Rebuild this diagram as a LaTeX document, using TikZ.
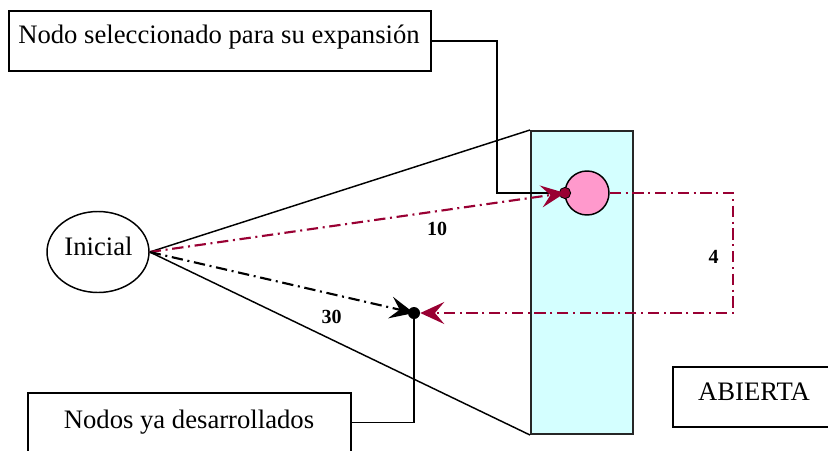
\documentclass[tikz,border=0pt]{standalone}
\usepackage{fontspec}
\setmainfont{Liberation Serif}
\usetikzlibrary{arrows.meta,shapes.geometric}
\definecolor{dred}{RGB}{153,0,51}
\definecolor{lcyan}{RGB}{212,255,255}
\definecolor{pinkf}{RGB}{255,153,204}
\begin{document}
\begin{tikzpicture}[x=0.75pt,y=-0.75pt,
  lbl/.style={font=\fontsize{20}{24}\selectfont, inner sep=0pt},
  num/.style={font=\fontsize{15}{18}\selectfont\bfseries, inner sep=0pt},
  boxn/.style={draw, line width=1.1pt, inner sep=0pt},
  thinl/.style={line width=1.1pt},
  dd/.style={line width=1.6pt, dash pattern=on 8.5pt off 3.5pt on 1.5pt off 3.5pt},
  tipr/.style={-{Stealth[length=18pt,width=16.5pt,inset=7pt]}},
]
\useasboundingbox (0,0) rectangle (828,450);
\begin{scope}
\clip (0,0) rectangle (828,450);
% shapes
\node[draw=black!85, line width=1.5pt, fill=lcyan, minimum width=76.5pt, minimum height=227.25pt, inner sep=0pt] (rect) at (582,282.5) {};
\node[ellipse, draw, line width=1.1pt, minimum width=76.5pt, minimum height=60.75pt, inner sep=0pt] (ini) at (98,252) {};
\node[lbl, anchor=base] at (98.5,255) {Inicial};
\node[circle, draw, line width=1.1pt, fill=pinkf, minimum size=33pt, inner sep=0pt] (sel) at (587,193) {};
\node[circle, fill=dred, draw=black, line width=0.6pt, minimum size=8.5pt, inner sep=0pt] (dsel) at (565,193) {};
\node[circle, fill=black, minimum size=9pt, inner sep=0pt] (ddes) at (414,313) {};
\coordinate (c1) at (733,193);
\coordinate (c2) at (733,313);
\coordinate (k1) at (497,193);
% boxes
\node[boxn, minimum width=316.5pt, minimum height=45pt] (top) at (220,41) {};
\node[lbl, anchor=base] at (219,43.5) {Nodo seleccionado para su expansión};
\node[boxn, minimum width=242.25pt, minimum height=52.5pt] (bot) at (189.5,428) {};
\node[lbl, anchor=base] at (189,428) {Nodos ya desarrollados};
\node[boxn, minimum width=130.5pt, minimum height=45pt] (ab) at (760,397) {};
\node[lbl, anchor=base] at (754,400.5) {ABIERTA};
% cone lines
\draw[thinl] (ini.east) -- (rect.north west);
\draw[thinl] (ini.east) -- (rect.south west);
% connectors
\draw[thinl] (top.east) -| (k1) -- (dsel);
\draw[thinl] ([yshift=-22.5pt]bot.north east) -| (ddes);
% arrows
\draw[dd, dred, tipr] (ini.east) -- (dsel.center);
\draw[dd, black, tipr] (ini.east) -- (ddes.center);
\draw[dd, dred, tipr] (sel.east) -- (c1) -- (c2) -- (ddes);
% labels
\node[num] at (437,229) {10};
\node[num] at (331.5,317) {30};
\node[num] at (713.5,256.5) {4};
\end{scope}
\end{tikzpicture}
\end{document}
